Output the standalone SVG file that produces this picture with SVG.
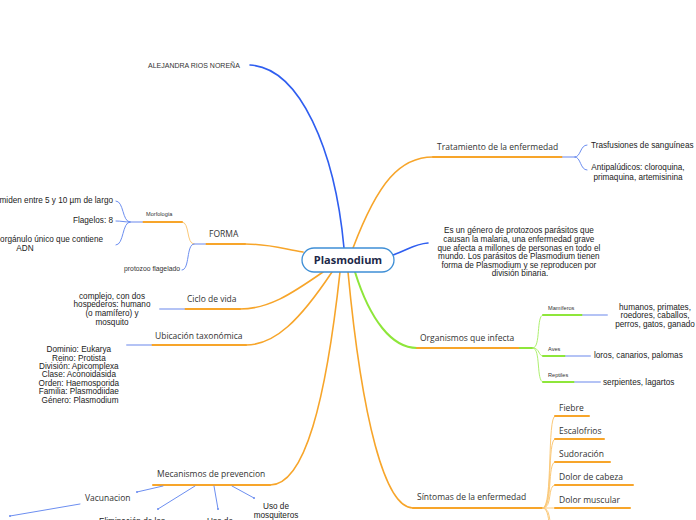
<svg xmlns="http://www.w3.org/2000/svg" width="696" height="520" viewBox="0 0 696 520">
<style>
.t{font-family:"Open Sans","DejaVu Sans",sans-serif;font-size:8.5px;fill:#333}
.s{font-family:"Liberation Sans","Noto Sans",sans-serif;font-size:8.2px;fill:#222}
.xs{font-family:"Liberation Sans","Noto Sans",sans-serif;font-size:5.6px;fill:#333}
.c{text-anchor:middle}
.e{text-anchor:end}
path,line{fill:none;stroke-linecap:round}
.o{stroke:#f7a52a;stroke-width:2}
.oc{stroke:#f7a52a;stroke-width:1.6}
.ol{stroke:#fbc979;stroke-width:1}
.b{stroke:#6c8ef0;stroke-width:1}
.lb{stroke:#b4c3f5;stroke-width:2}
.g{stroke:#8ee63a;stroke-width:2}
.gl{stroke:#aef070;stroke-width:1}
.db{stroke:#2f5ef0;stroke-width:1.6}
</style>
<rect width="696" height="520" fill="#fff"/>
<g id="connectors">
<path class="db" d="M344,248 C335,150 300,68 250,65"/>
<path class="oc" d="M353,248 C378,182 400,157 433,157"/>
<path class="o" d="M433,157 L563,157"/>
<path class="lb" d="M563,157 L575,157"/>
<path class="b" d="M575,157 C581,157 580,145 587,145"/>
<path class="b" d="M575,157 C581,157 580,170 587,170"/>
<path class="db" d="M393,255 C408,250 414,244 428,243"/>
<path class="g" d="M355,272 C370,320 392,348 417,348"/>
<path class="o" d="M417,348 L520,348"/>
<path class="g" d="M520,348 L533,348"/>
<path class="gl" d="M533,348 C541,348 536,315 543,315"/>
<path class="gl" d="M533,348 C540,348 538,356 543,356"/>
<path class="gl" d="M533,348 C541,348 536,382 543,382"/>
<path class="g" d="M543,315 L583,315"/>
<path class="lb" d="M583,315 L607,315"/>
<path class="g" d="M543,356 L566,356"/>
<path class="lb" d="M566,356 L590,356"/>
<path class="g" d="M543,382 L575,382"/>
<path class="lb" d="M575,382 L600,382"/>
<path class="oc" d="M348,272 C362,420 385,508 413,508"/>
<path class="o" d="M413,508 L543,508"/>
<path class="ol" d="M543,508 C553,508 547,416 555,416"/>
<path class="ol" d="M543,508 C553,508 547,439 555,439"/>
<path class="ol" d="M543,508 C553,508 547,462 555,462"/>
<path class="ol" d="M543,508 C553,508 547,485 555,485"/>
<path class="ol" d="M543,508 C551,508 549,508 555,508"/>
<path class="ol" d="M543,508 C553,508 547,531 555,531"/>
<path class="ol" d="M543,508 C553,508 547,554 555,554"/>
<path class="o" d="M555,416 L589,416"/>
<path class="o" d="M555,439 L604,439"/>
<path class="o" d="M555,462 L610,462"/>
<path class="o" d="M555,485 L633,485"/>
<path class="o" d="M555,508 L630,508"/>
<path class="oc" d="M340,272 C326,400 305,485 270,485"/>
<path class="o" d="M270,485 L153,485"/>
<path class="b" d="M163,486 L137,492"/>
<path class="b" d="M195,486 L158,509"/>
<path class="b" d="M214,486 L218,509"/>
<path class="b" d="M232,486 L254,498"/>
<path class="b" d="M80,504 L10,516"/>
<circle cx="137" cy="492" r="1" fill="#6c8ef0"/>
<circle cx="158" cy="509" r="1" fill="#6c8ef0"/>
<circle cx="218" cy="509" r="1" fill="#6c8ef0"/>
<circle cx="254" cy="498" r="1" fill="#6c8ef0"/>
<circle cx="10" cy="516" r="1" fill="#6c8ef0"/>
<path class="oc" d="M332,272 C300,320 275,345 246,345"/>
<path class="o" d="M246,345 L151,345"/>
<path class="lb" d="M127,345 L151,345"/>
<path class="oc" d="M323,272 C290,295 268,309 240,309"/>
<path class="o" d="M240,309 L184,309"/>
<path class="lb" d="M160,309 L184,309"/>
<path class="oc" d="M303,252 C280,248 268,244 245,244"/>
<path class="o" d="M245,244 L205,244"/>
<path class="lb" d="M194,244 L205,244"/>
<path class="ol" d="M194,244 C186,244 190,222 182,222"/>
<path class="b" d="M194,244 C186,244 190,270 182,270"/>
<path class="o" d="M182,222 L142,222"/>
<path class="lb" d="M142,222 L130,222"/>
<path class="b" d="M130,222 C122,222 124,201 116,201"/>
<path class="b" d="M130,222 C124,222 122,221 116,221"/>
<path class="b" d="M130,222 C122,222 124,245 116,245"/>
</g>
<g id="center">
<rect x="302" y="248" width="92" height="24" rx="12" fill="#fff" stroke="#3f8fd6" stroke-width="1.3"/>
<text x="348" y="264" class="c" style="font-family:'Open Sans','DejaVu Sans',sans-serif;font-size:11px;font-weight:bold;fill:#1c2748">Plasmodium</text>
</g>
<g id="autor"><text x="148" y="68" class="xs" style="font-size:7px">ALEJANDRA RIOS NOREÑA</text></g>
<g id="tratamiento"><text x="437" y="150" class="t">Tratamiento de la enfermedad</text></g>
<g id="trasfusiones"><text x="591" y="148" class="s">Trasfusiones de sanguíneas</text></g>
<g id="antipaludicos"><text class="s c"><tspan x="638" y="170">Antipalúdicos: cloroquina,</tspan><tspan x="638" y="180">primaquina, artemisinina</tspan></text></g>
<g id="definicion"><text class="s c">
<tspan x="520" y="233">Es un género de protozoos parásitos que</tspan>
<tspan x="520" y="242">causan la malaria, una enfermedad grave</tspan>
<tspan x="520" y="251">que afecta a millones de personas en todo el</tspan>
<tspan x="520" y="259">mundo. Los parásitos de Plasmodium tienen</tspan>
<tspan x="520" y="268">forma de Plasmodium y se reproducen por</tspan>
<tspan x="520" y="276">división binaria.</tspan></text></g>
<g id="organismos"><text x="420" y="341" class="t">Organismos que infecta</text></g>
<g id="mamiferos"><text x="548" y="310" class="xs">Mamíferos</text></g>
<g id="mamiferos-lista"><text class="s c"><tspan x="655" y="310">humanos, primates,</tspan><tspan x="655" y="318">roedores, caballos,</tspan><tspan x="655" y="327">perros, gatos, ganado</tspan></text></g>
<g id="aves"><text x="548" y="351" class="xs">Aves</text></g>
<g id="aves-lista"><text x="594" y="358" class="s">loros, canarios, palomas</text></g>
<g id="reptiles"><text x="548" y="377" class="xs">Reptiles</text></g>
<g id="reptiles-lista"><text x="603" y="385" class="s">serpientes, lagartos</text></g>
<g id="sintomas"><text x="417" y="500" class="t">Síntomas de la enfermedad</text></g>
<g id="fiebre"><text x="559" y="411" class="t">Fiebre</text></g>
<g id="escalofrios"><text x="559" y="434" class="t">Escalofrios</text></g>
<g id="sudoracion"><text x="559" y="457" class="t">Sudoración</text></g>
<g id="dolor-cabeza"><text x="559" y="480" class="t">Dolor de cabeza</text></g>
<g id="dolor-muscular"><text x="559" y="503" class="t">Dolor muscular</text></g>
<g id="mecanismos"><text x="157" y="477" class="t">Mecanismos de prevencion</text></g>
<g id="vacunacion"><text x="85" y="501" class="t">Vacunacion</text></g>
<g id="eliminacion"><text x="132" y="524" class="s c">Eliminación de los</text></g>
<g id="uso"><text x="220" y="524" class="s c">Uso de</text></g>
<g id="mosquiteros"><text class="s c"><tspan x="276" y="509">Uso de</tspan><tspan x="276" y="518">mosquiteros</tspan></text></g>
<g id="ubicacion"><text x="155" y="339" class="t">Ubicación taxonómica</text></g>
<g id="taxonomia"><text class="s c">
<tspan x="80" y="352">Dominio: Eukarya</tspan>
<tspan x="80" y="361">Reino: Protista</tspan>
<tspan x="80" y="369">División: Apicomplexa</tspan>
<tspan x="80" y="377">Clase: Aconoidasida</tspan>
<tspan x="80" y="386">Orden: Haemosporida</tspan>
<tspan x="80" y="394">Familia: Plasmodiidae</tspan>
<tspan x="80" y="403">Género: Plasmodium</tspan></text></g>
<g id="ciclo"><text x="187" y="302" class="t">Ciclo de vida</text></g>
<g id="hospederos"><text class="s c"><tspan x="112" y="299">complejo, con dos</tspan><tspan x="112" y="307">hospederos: humano</tspan><tspan x="112" y="316">(o mamífero) y</tspan><tspan x="112" y="325">mosquito</tspan></text></g>
<g id="forma"><text x="209" y="237" class="t">FORMA</text></g>
<g id="morfologia"><text x="146" y="216" class="xs">Morfología</text></g>
<g id="miden"><text x="113" y="203" class="s e">miden entre 5 y 10 µm de largo</text></g>
<g id="flagelos"><text x="113" y="223" class="s e">Flagelos: 8</text></g>
<g id="organulo"><text class="s"><tspan x="103" y="242" text-anchor="end">orgánulo único que contiene</tspan><tspan x="25" y="251" text-anchor="middle">ADN</tspan></text></g>
<g id="protozoo"><text x="180" y="271" class="xs e" style="font-size:6.8px">protozoo flagelado</text></g>
</svg>
